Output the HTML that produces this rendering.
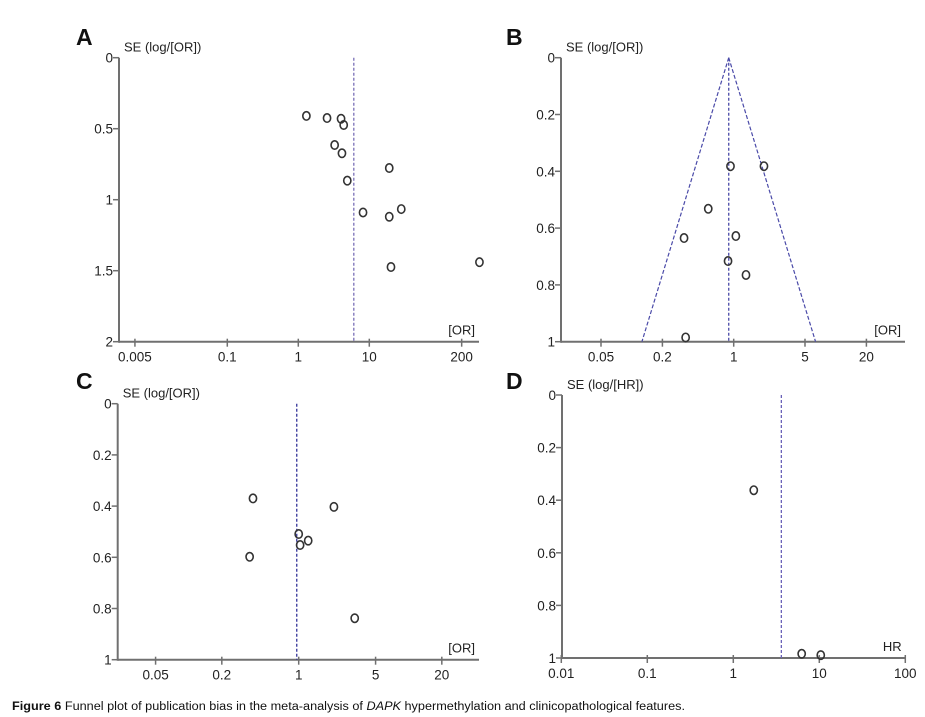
<!DOCTYPE html>
<html><head><meta charset="utf-8"><style>
html,body{margin:0;padding:0;background:#fff;}
svg{display:block;font-family:"Liberation Sans",Arial,sans-serif;}
</style></head><body>
<svg id="fig" width="925" height="717" viewBox="0 0 925 717" xmlns="http://www.w3.org/2000/svg">
<text x="12" y="710" font-size="11.5" fill="#111" textLength="673" lengthAdjust="spacingAndGlyphs"><tspan font-weight="bold">Figure 6</tspan> Funnel plot of publication bias in the meta-analysis of <tspan font-style="italic">DAPK</tspan> hypermethylation and clinicopathological features.</text>
</svg>
<script>
// Panel A data
const aEffects = [1.3, 2.54, 4.0, 4.36, 3.25, 4.12, 4.9, 19.1, 8.16, 19.1, 28.2, 20.2, 356];
const aSE = [0.41, 0.425, 0.43, 0.474, 0.615, 0.673, 0.866, 0.777, 1.09, 1.12, 1.066, 1.474, 1.44];
const aXTicks = [0.005, 0.1, 1, 10, 200];
const aYTicks = [0, 0.5, 1, 1.5, 2];
const aMean = 6.05;
// Panel B data
const bEffects = [0.93, 1.98, 0.563, 0.326, 1.05, 0.88, 1.32, 0.338];
const bSE = [0.382, 0.382, 0.532, 0.635, 0.628, 0.716, 0.765, 0.985];
const bXTicks = [0.05, 0.2, 1, 5, 20];
const bYTicks = [0, 0.2, 0.4, 0.6, 0.8, 1];
const bMean = 0.894;
// Panel C data
const cEffects = [0.384, 2.09, 1.0, 1.03, 1.22, 0.358, 3.23];
const cSE = [0.37, 0.403, 0.509, 0.552, 0.535, 0.598, 0.838];
const cXTicks = [0.05, 0.2, 1, 5, 20];
const cYTicks = [0, 0.2, 0.4, 0.6, 0.8, 1];
const cMean = 0.96;
// Panel D data
const dEffects = [1.73, 6.24, 10.4];
const dSE = [0.362, 0.984, 0.989];
const dXTicks = [0.01, 0.1, 1, 10, 100];
const dYTicks = [0, 0.2, 0.4, 0.6, 0.8, 1];
const dMean = 3.62;

const NS = "http://www.w3.org/2000/svg";
const svg = document.getElementById('fig');
function mk(tag, attrs, parent, text) {
  const e = document.createElementNS(NS, tag);
  for (const k in attrs) e.setAttribute(k, attrs[k]);
  if (text !== undefined) e.textContent = text;
  (parent || svg).appendChild(e);
  return e;
}
function panel(cfg, effects, ses, xticks, yticks, mean) {
  const g = mk('g', {});
  
  
  const ymax = yticks[yticks.length - 1];
  const X = v => cfg.x1 + cfg.dec * Math.log10(v);
  const Y = s => cfg.y0 + (cfg.yb - cfg.y0) * s / ymax;
  const lbl = mk('text', {x: cfg.lx, y: cfg.ly, 'font-size': 23, 'font-weight': 'bold', fill: '#111'}, g, cfg.letter);
  
  
  const yt = mk('text', {x: cfg.ax + 5, y: cfg.y0 - 6, 'font-size': 13, fill: '#222'}, g, cfg.ytitle);
  
  
  const xt = mk('text', {x: cfg.xend - 4, y: cfg.yb - 7, 'font-size': 13, fill: '#222', 'text-anchor': 'end'}, g, cfg.xtitle);
  
  
  // axes
  const ya = mk('line', {x1: cfg.ax, y1: cfg.y0, x2: cfg.ax, y2: cfg.yb + 1, stroke: '#707070', 'stroke-width': 2}, g);
  
  
  const xa = mk('line', {x1: cfg.ax, y1: cfg.yb, x2: cfg.xend, y2: cfg.yb, stroke: '#707070', 'stroke-width': 2}, g);
  
  
  yticks.forEach(t => {
    const y = Y(t);
    const tk = mk('line', {x1: cfg.ax - 6, y1: y, x2: cfg.ax, y2: y, stroke: '#707070', 'stroke-width': 1.5}, g);
    
    
    const tl = mk('text', {x: cfg.ax - 6, y: y + 5, 'font-size': 13.5, fill: '#222', 'text-anchor': 'end'}, g, String(t));
    
    
  });
  xticks.forEach(t => {
    const x = X(t);
    const tk = mk('line', {x1: x, y1: cfg.yb - 3, x2: x, y2: cfg.yb + 5, stroke: '#707070', 'stroke-width': 1.5}, g);
    
    
    const tl = mk('text', {x: x, y: cfg.yb + 20, 'font-size': 13.5, fill: '#222', 'text-anchor': 'middle'}, g, String(t));
    
    
  });
  // mean line
  const ml = mk('line', {x1: X(mean), y1: cfg.y0, x2: X(mean), y2: cfg.yb, stroke: cfg.lc, 'stroke-width': 1.3, 'stroke-dasharray': '3,2'}, g);
  
  
  if (cfg.funnel) {
    const k = 1.96 / Math.LN10;
    const lm = Math.log10(mean);
    ['left', 'right'].forEach((side, i) => {
      const sgn = i === 0 ? -1 : 1;
      const fl = mk('line', {x1: X(mean), y1: Y(0), x2: X(Math.pow(10, lm + sgn * k * ymax)), y2: Y(ymax), stroke: cfg.lc, 'stroke-width': 1.2, 'stroke-dasharray': '4,2'}, g);
      
      
    });
  }
  effects.forEach((v, i) => {
    const c = mk('ellipse', {cx: X(v), cy: Y(ses[i]), rx: 3.6, ry: 4.2, fill: 'none', stroke: '#333', 'stroke-width': 1.6}, g);
    
    
  });
}
panel({letter: 'A', lx: 76, ly: 45, ax: 119, y0: 57.7, yb: 341.7, x1: 298.3, dec: 71, xend: 479, lc: '#7a70b8', ytitle: 'SE (log/[OR])', xtitle: '[OR]'}, aEffects, aSE, aXTicks, aYTicks, aMean);
panel({letter: 'B', lx: 506, ly: 45, ax: 561, y0: 57.7, yb: 341.7, x1: 733.7, dec: 102, xend: 905, lc: '#4a4aa8', ytitle: 'SE (log/[OR])', xtitle: '[OR]', funnel: true}, bEffects, bSE, bXTicks, bYTicks, bMean);
panel({letter: 'C', lx: 76, ly: 389, ax: 117.7, y0: 403.7, yb: 659.7, x1: 298.7, dec: 110, xend: 479, lc: '#333399', ytitle: 'SE (log/[OR])', xtitle: '[OR]'}, cEffects, cSE, cXTicks, cYTicks, cMean);
panel({letter: 'D', lx: 506, ly: 389, ax: 562, y0: 395, yb: 658, x1: 733.3, dec: 86, xend: 905.7, lc: '#6a62b8', ytitle: 'SE (log/[HR])', xtitle: 'HR'}, dEffects, dSE, dXTicks, dYTicks, dMean);
</script>
</body></html>
